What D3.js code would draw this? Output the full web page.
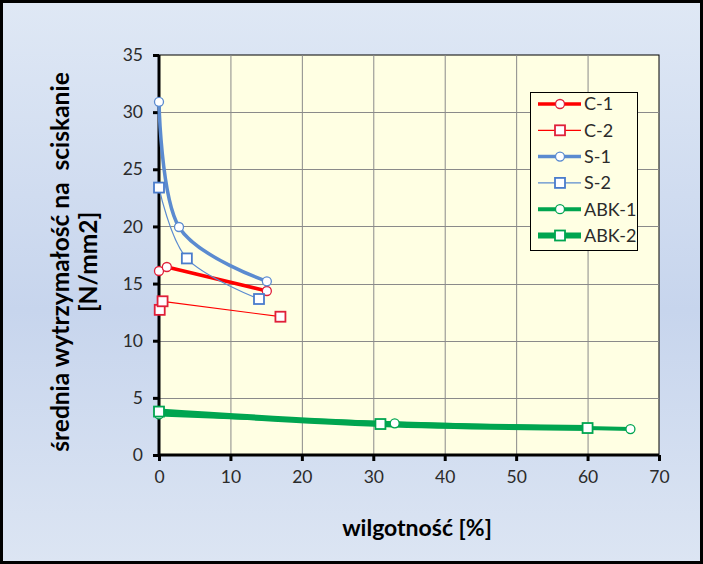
<!DOCTYPE html>
<html><head><meta charset="utf-8">
<script src="https://cdn.jsdelivr.net/npm/d3@7"></script>
<style>html,body{margin:0;padding:0;background:#fff;}svg{display:block;}</style>
</head><body>
<script>
// ---- data ----
const seriesNames = ["C-1","C-2","S-1","S-2","ABK-1","ABK-2"];
const c1 = [[0,16.1],[1.1,16.45],[15.1,14.35]];
const c2 = [[0.1,12.7],[0.5,13.45],[17,12.1]];
const s1 = [[0,30.9],[2.8,19.95],[15.1,15.2]];
const s2 = [[0,23.4],[3.9,17.2],[14,13.65]];
const abk1 = [[0,3.55],[33,2.77],[66,2.27]];
const abk2 = [[0,3.8],[31,2.71],[60,2.36]];
const xTicks = [0,10,20,30,40,50,60,70];
const yTicks = [0,5,10,15,20,25,30,35];
const yTitle1 = "średnia wytrzymałość na  sciskanie";
const yTitle2 = "[N/mm2]";
const xTitle = "wilgotność [%]";

const W = 703, H = 564;
const svg = d3.select("body").append("svg").attr("width", W).attr("height", H);
const defs = svg.append("defs");
const g = defs.append("linearGradient").attr("id","bg").attr("x1",0).attr("y1",0).attr("x2",0).attr("y2",1);
g.append("stop").attr("offset","0%").attr("stop-color","#dfe8f5");
g.append("stop").attr("offset","55%").attr("stop-color","#c7d5ed");
g.append("stop").attr("offset","100%").attr("stop-color","#dce5f3");
svg.append("rect").attr("x",1.5).attr("y",1.5).attr("width",W-3).attr("height",H-3)
  .attr("fill","url(#bg)").attr("stroke","#000").attr("stroke-width",3);

const x = d3.scaleLinear().domain([0,70]).range([159,659]);
const y = d3.scaleLinear().domain([0,35]).range([455,55]);
const font = "Lato, 'Open Sans', sans-serif";

// plot area
svg.append("rect").attr("x",x(0)).attr("y",y(35)).attr("width",x(70)-x(0)).attr("height",y(0)-y(35))
  .attr("fill","#ffffe3").attr("stroke","#000").attr("stroke-width",1);
// gridlines
svg.append("g").selectAll("line").data(xTicks.filter(t=>t>0&&t<70)).join("line")
  .attr("x1",d=>x(d)+0.5).attr("x2",d=>x(d)+0.5).attr("y1",y(35)).attr("y2",y(0))
  .attr("stroke","#8a8a8a").attr("stroke-width",1);
svg.append("g").selectAll("line").data(yTicks.filter(t=>t>0&&t<35)).join("line")
  .attr("y1",d=>Math.round(y(d))+0.5).attr("y2",d=>Math.round(y(d))+0.5).attr("x1",x(0)).attr("x2",x(70))
  .attr("stroke","#8a8a8a").attr("stroke-width",1);

// axes
const xAxis = svg.append("g").attr("transform",`translate(0,${y(0)})`)
  .call(d3.axisBottom(x).tickValues(xTicks).tickSize(6).tickPadding(10));
const yAxis = svg.append("g").attr("transform",`translate(${x(0)},0)`)
  .call(d3.axisLeft(y).tickValues(yTicks).tickSize(6).tickPadding(10));
[xAxis,yAxis].forEach(a=>{
  a.select(".domain").attr("stroke","#000").attr("stroke-width",3);
  a.selectAll(".tick line").attr("stroke","#000").attr("stroke-width",3);
  a.selectAll(".tick text").attr("font-family",font).attr("font-size",17.5).attr("fill","#2b2b2b");
});
xAxis.select(".domain").attr("d",`M${x(0)},0H${x(70)}`);
yAxis.select(".domain").attr("d",`M0,${y(0)}V${y(35)}`);

// series
const series = [
  {name:"C-1", data:c1, color:"#ff0000", w:3.5, m:"circle", mc:"#e0203a", smooth:false},
  {name:"C-2", data:c2, color:"#ff0000", w:1.2, m:"square", mc:"#e0203a", smooth:false},
  {name:"S-1", data:s1, color:"#5b8bd0", w:3.5, m:"circle", mc:"#5b8bd0", smooth:true},
  {name:"S-2", data:s2, color:"#5b8bd0", w:1.2, m:"square", mc:"#4a7ccc", smooth:true},
  {name:"ABK-1", data:abk1, color:"#00a550", w:4, m:"circle", mc:"#00a550", smooth:true},
  {name:"ABK-2", data:abk2, color:"#00a550", w:6, m:"square", mc:"#00a550", smooth:true}
];
const lineS = d3.line().x(d=>x(d[0])).y(d=>y(d[1])).curve(d3.curveCardinal.tension(0));
const lineL = d3.line().x(d=>x(d[0])).y(d=>y(d[1]));
series.forEach(s=>{
  svg.append("path").attr("d",(s.smooth?lineS:lineL)(s.data)).attr("fill","none")
    .attr("stroke",s.color).attr("stroke-width",s.w).attr("stroke-linejoin","round");
});
function marker(sel, s, cx, cy){
  if(s.m==="circle"){
    sel.append("circle").attr("cx",cx).attr("cy",cy).attr("r",4.5)
      .attr("fill","#fff").attr("stroke",s.mc).attr("stroke-width",1.3);
  } else {
    sel.append("rect").attr("x",cx-5).attr("y",cy-5).attr("width",10).attr("height",10)
      .attr("fill","#fff").attr("stroke",s.mc).attr("stroke-width",1.8);
  }
}
series.forEach(s=>{
  const gg = svg.append("g");
  s.data.forEach(d=>marker(gg,s,x(d[0]),y(d[1])));
});

// legend
const lg = svg.append("g");
lg.append("rect").attr("x",530.5).attr("y",92.5).attr("width",107).attr("height",158)
  .attr("fill","#ffffe3").attr("stroke","#000").attr("stroke-width",1);
series.forEach((s,i)=>{
  const ly = 104 + i*26.3;
  lg.append("line").attr("x1",538).attr("x2",581).attr("y1",ly).attr("y2",ly)
    .attr("stroke",s.color).attr("stroke-width",s.w);
  marker(lg,s,560,ly);
  lg.append("text").attr("x",584).attr("y",ly).attr("dy","0.35em")
    .attr("font-family",font).attr("font-size",18).attr("fill","#2b2b2b").text(s.name);
});

// titles
const yt = svg.append("text")
  .attr("font-family",font).attr("font-weight","bold").attr("font-size",24.5).attr("fill","#000")
  .attr("text-anchor","middle").style("white-space","pre");
yt.append("tspan").attr("x",0).attr("y",0).text(yTitle1);
yt.append("tspan").attr("x",0).attr("y",28).text(yTitle2);
yt.attr("transform",`translate(69,262) rotate(-90)`);
svg.append("text").attr("x",417).attr("y",536).attr("text-anchor","middle")
  .attr("font-family",font).attr("font-weight","bold").attr("font-size",23).attr("fill","#000")
  .text(xTitle);
</script>
</body></html>
